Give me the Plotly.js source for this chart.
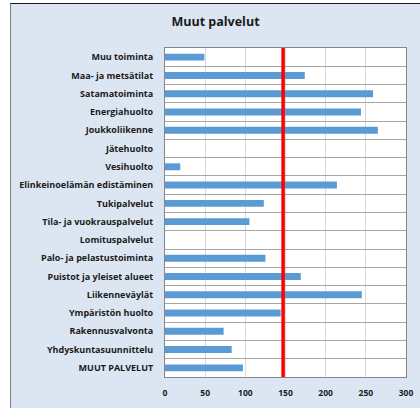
<!DOCTYPE html>
<html>
<head>
<meta charset="utf-8">
<script src="https://cdn.plot.ly/plotly-3.0.1.min.js"></script>
<style>
  html, body { margin: 0; padding: 0; background: #ffffff; }
  #wrap { position: absolute; left: 10px; top: 3px; width: 410px; height: 405px;
          border-left: 1px solid #7f7f7f; border-top: 1px solid #1a1a1a; background: #dce6f2; }
  #chart { width: 409px; height: 404px; }
</style>
</head>
<body>
<div id="wrap"><div id="chart"></div></div>
<script>
const categories = [
  "Muu toiminta",
  "Maa- ja metsätilat",
  "Satamatoiminta",
  "Energiahuolto",
  "Joukkoliikenne",
  "Jätehuolto",
  "Vesihuolto",
  "Elinkeinoelämän edistäminen",
  "Tukipalvelut",
  "Tila- ja vuokrauspalvelut",
  "Lomituspalvelut",
  "Palo- ja pelastustoiminta",
  "Puistot ja yleiset alueet",
  "Liikenneväylät",
  "Ympäristön huolto",
  "Rakennusvalvonta",
  "Yhdyskuntasuunnittelu",
  "MUUT PALVELUT"
];
const values = [49, 174, 259, 244, 265, 0, 19, 214, 123, 105, 0, 125, 169, 245, 144, 73, 83, 97];
const referenceValue = 147;
const xTickValues = [0, 50, 100, 150, 200, 250, 300];
const chartTitle = "Muut palvelut";

const fontFamily = "'Open Sans', Lato, sans-serif";

const trace = {
  type: "bar",
  orientation: "h",
  y: categories,
  x: values,
  marker: { color: "#5b9bd5", line: { width: 0 } },
  hoverinfo: "x+y"
};

const layout = {
  width: 409,
  height: 404,
  paper_bgcolor: "#dce6f2",
  plot_bgcolor: "#ffffff",
  margin: { l: 154, r: 14, t: 44, b: 31, pad: 0 },
  showlegend: false,
  bargap: 0.62,
  title: {
    text: "<b>" + chartTitle + "</b>",
    x: 0.5, xanchor: "center",
    y: 1 - 18 / 404, yanchor: "middle",
    font: { family: fontFamily, size: 12.5, color: "#1a1a1a" }
  },
  xaxis: {
    range: [0, 300],
    tickvals: xTickValues,
    ticktext: xTickValues.map(v => "<b>" + v + "</b>"),
    showgrid: true,
    gridcolor: "#d9d9d9",
    gridwidth: 1,
    zeroline: false,
    showline: true,
    mirror: true,
    linecolor: "#868686",
    linewidth: 1,
    ticks: "",
    ticklabelstandoff: 8,
    tickfont: { family: fontFamily, size: 8.5, color: "#1a1a1a" },
    fixedrange: true
  },
  yaxis: {
    type: "category",
    autorange: "reversed",
    tickson: "boundaries",
    showgrid: true,
    gridcolor: "#a6a6a6",
    gridwidth: 1,
    showline: true,
    mirror: true,
    linecolor: "#868686",
    linewidth: 1,
    ticks: "",
    ticklabelstandoff: 9,
    tickvals: categories,
    ticktext: categories.map(c => "<b>" + c + "</b>"),
    tickfont: { family: fontFamily, size: 9, color: "#1a1a1a" },
    fixedrange: true
  },
  shapes: [
    {
      type: "line",
      xref: "x", yref: "paper",
      x0: referenceValue, x1: referenceValue,
      y0: 0, y1: 1,
      line: { color: "#ff0000", width: 3.5 }
    }
  ]
};

Plotly.newPlot("chart", [trace], layout, { displayModeBar: false, staticPlot: true });
</script>
</body>
</html>
